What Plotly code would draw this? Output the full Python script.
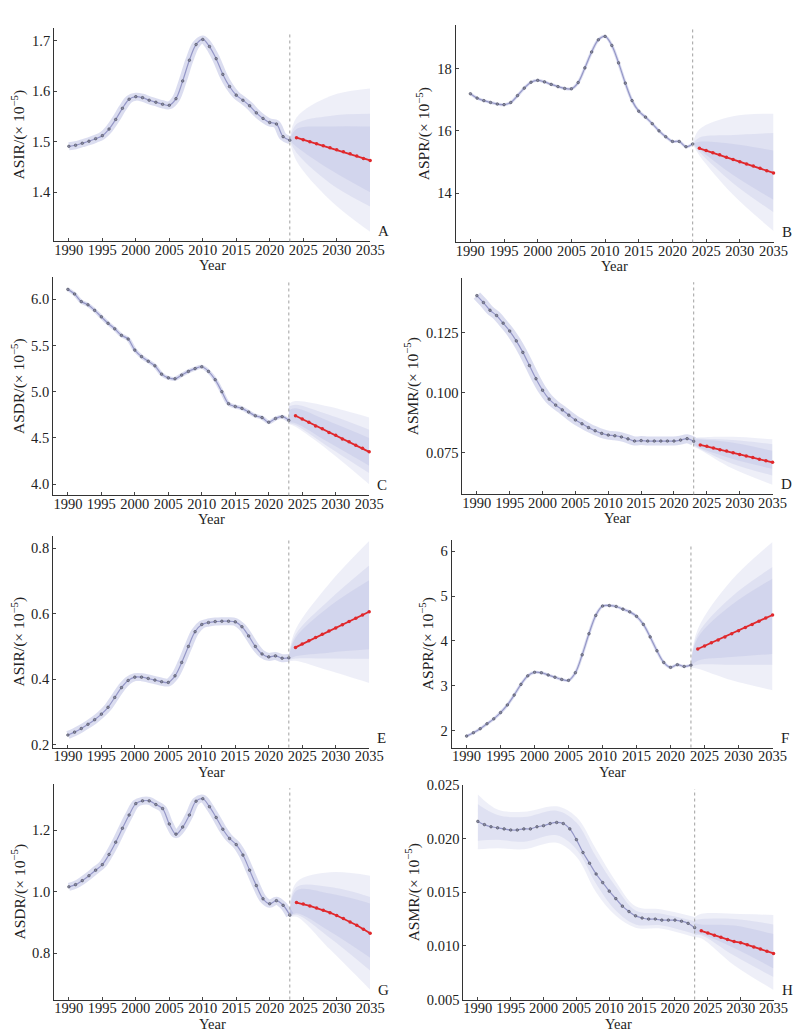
import plotly.graph_objects as go

YEARS_HIST = list(range(1990, 2024))
YEARS_PRED = list(range(2024, 2036))
FAN_YEARS = [2023, 2024, 2029, 2035]

# A  ASIR
a_hist = [1.491, 1.493, 1.497, 1.501, 1.506, 1.512, 1.525, 1.544, 1.566, 1.584,
          1.589, 1.587, 1.582, 1.578, 1.574, 1.572, 1.585, 1.620, 1.661, 1.692,
          1.702, 1.688, 1.664, 1.633, 1.609, 1.592, 1.582, 1.571, 1.557, 1.546,
          1.538, 1.535, 1.510, 1.503]
a_pred = [1.508, 1.504, 1.500, 1.496, 1.492, 1.488, 1.484, 1.480, 1.476, 1.472, 1.467, 1.463]
a_fan_hi = [[1.503, 1.548, 1.590, 1.605], [1.503, 1.535, 1.551, 1.555], [1.503, 1.525, 1.530, 1.530]]
a_fan_lo = [[1.503, 1.462, 1.385, 1.322], [1.503, 1.478, 1.418, 1.372], [1.503, 1.490, 1.445, 1.400]]

# B  ASPR
b_hist = [17.19, 17.05, 16.97, 16.91, 16.86, 16.84, 16.91, 17.13, 17.37, 17.56,
          17.62, 17.57, 17.49, 17.42, 17.36, 17.35, 17.55, 18.02, 18.53, 18.92,
          19.03, 18.74, 18.18, 17.53, 16.97, 16.63, 16.44, 16.23, 16.00, 15.81,
          15.66, 15.66, 15.49, 15.58]
b_pred = [15.44, 15.37, 15.30, 15.23, 15.15, 15.08, 15.01, 14.94, 14.87, 14.80, 14.72, 14.65]
b_fan_hi = [[15.58, 16.05, 16.47, 16.55], [15.58, 15.79, 15.87, 15.93], [15.58, 15.65, 15.58, 15.37]]
b_fan_lo = [[15.58, 15.21, 13.95, 12.79], [15.58, 15.32, 14.32, 13.39], [15.58, 15.40, 14.58, 13.79]]

# C  ASDR
c_hist = [6.107, 6.057, 5.975, 5.94, 5.88, 5.81, 5.74, 5.68, 5.61, 5.57,
          5.45, 5.38, 5.33, 5.28, 5.19, 5.15, 5.14, 5.18, 5.22, 5.25,
          5.27, 5.22, 5.13, 5.00, 4.87, 4.84, 4.82, 4.78, 4.74, 4.72,
          4.67, 4.71, 4.73, 4.69]
c_pred = [4.74, 4.705, 4.67, 4.63, 4.60, 4.56, 4.53, 4.49, 4.46, 4.42, 4.39, 4.35]
c_fan_hi = [[4.87, 4.90, 4.84, 4.72], [4.84, 4.86, 4.75, 4.59], [4.80, 4.82, 4.68, 4.50]]
c_fan_lo = [[4.65, 4.62, 4.36, 4.00], [4.66, 4.64, 4.40, 4.12], [4.67, 4.66, 4.45, 4.20]]

# D  ASMR
d_hist = [0.1406, 0.1377, 0.1345, 0.1323, 0.1291, 0.1258, 0.1217, 0.1169, 0.1114, 0.1059,
          0.1011, 0.0974, 0.0949, 0.0929, 0.0907, 0.0887, 0.0871, 0.0855, 0.0842, 0.0831,
          0.0824, 0.0821, 0.0816, 0.0808, 0.0799, 0.0801, 0.0799, 0.0799, 0.0799, 0.0799,
          0.0799, 0.0803, 0.0809, 0.0798]
d_pred = [0.0783, 0.0777, 0.0770, 0.0763, 0.0757, 0.0750, 0.0743, 0.0737, 0.0730, 0.0723, 0.0717, 0.0710]
d_fan_hi = [[0.0813, 0.0815, 0.0817, 0.0806], [0.0810, 0.0810, 0.0803, 0.0786], [0.0806, 0.0805, 0.0792, 0.0758]]
d_fan_lo = [[0.0775, 0.0762, 0.0683, 0.0617], [0.0780, 0.0766, 0.0703, 0.0655], [0.0785, 0.0770, 0.0724, 0.0683]]

# E  ASIR
e_hist = [0.229, 0.238, 0.249, 0.262, 0.276, 0.293, 0.314, 0.344, 0.374, 0.396,
          0.406, 0.406, 0.402, 0.397, 0.392, 0.390, 0.410, 0.451, 0.500, 0.545,
          0.567, 0.573, 0.576, 0.577, 0.577, 0.575, 0.560, 0.532, 0.500, 0.477,
          0.468, 0.471, 0.464, 0.465]
e_pred = [0.497, 0.507, 0.517, 0.527, 0.537, 0.547, 0.556, 0.566, 0.576, 0.586, 0.596, 0.606]
e_fan_hi = [[0.475, 0.551, 0.691, 0.822], [0.472, 0.536, 0.641, 0.747], [0.469, 0.526, 0.621, 0.702]]
e_fan_lo = [[0.455, 0.456, 0.426, 0.388], [0.458, 0.463, 0.463, 0.462], [0.461, 0.470, 0.481, 0.491]]

# F  ASPR
f_hist = [1.875, 1.95, 2.04, 2.15, 2.26, 2.40, 2.57, 2.79, 3.03, 3.22,
          3.30, 3.29, 3.24, 3.19, 3.14, 3.12, 3.29, 3.69, 4.16, 4.57,
          4.78, 4.79, 4.77, 4.71, 4.65, 4.55, 4.37, 4.09, 3.78, 3.52,
          3.41, 3.47, 3.43, 3.46]
f_pred = [3.82, 3.89, 3.96, 4.02, 4.09, 4.16, 4.23, 4.30, 4.37, 4.44, 4.51, 4.58]
f_fan_hi = [[3.52, 4.26, 5.36, 6.21], [3.50, 4.15, 4.99, 5.65], [3.48, 4.07, 4.81, 5.39]]
f_fan_lo = [[3.40, 3.38, 3.12, 2.90], [3.42, 3.47, 3.47, 3.47], [3.44, 3.56, 3.64, 3.71]]

# G  ASDR
g_hist = [1.016, 1.023, 1.036, 1.052, 1.070, 1.088, 1.121, 1.161, 1.206, 1.249,
          1.286, 1.295, 1.295, 1.283, 1.270, 1.220, 1.187, 1.210, 1.249, 1.294,
          1.302, 1.276, 1.241, 1.203, 1.173, 1.153, 1.119, 1.070, 1.020, 0.977,
          0.961, 0.971, 0.956, 0.924]
g_pred = [0.965, 0.960, 0.954, 0.947, 0.940, 0.932, 0.923, 0.913, 0.902, 0.891, 0.878, 0.865]
g_fan_hi = [[0.930, 1.031, 1.063, 1.052], [0.928, 1.015, 1.015, 0.983], [0.926, 1.004, 0.994, 0.962]]
g_fan_lo = [[0.915, 0.919, 0.813, 0.682], [0.918, 0.925, 0.850, 0.744], [0.920, 0.930, 0.871, 0.786]]

# H  ASMR
h_hist = [0.0216, 0.0213, 0.0211, 0.0210, 0.0209, 0.0208, 0.0208, 0.0209, 0.0209, 0.0211,
          0.0212, 0.0214, 0.0215, 0.0214, 0.0209, 0.0199, 0.0187, 0.0177, 0.0167, 0.0159,
          0.0151, 0.0144, 0.0137, 0.0132, 0.0128, 0.0126, 0.0125, 0.0125, 0.0124, 0.0124,
          0.0124, 0.0123, 0.0121, 0.0117]
h_pred = [0.0114, 0.0112, 0.0110, 0.0108, 0.0106, 0.0104, 0.0103, 0.0101, 0.0099, 0.0097, 0.0095, 0.0093]
h_fan_hi = [[0.0127, 0.0130, 0.0130, 0.01287], [0.0124, 0.0125, 0.0125, 0.0120], [0.0121, 0.0120, 0.0119, 0.0111]]
h_fan_lo = [[0.0108, 0.0107, 0.0082, 0.0059], [0.0110, 0.0110, 0.0091, 0.0071], [0.0112, 0.0111, 0.0098, 0.0079]]
# observed-period uncertainty band of H
h_band_years = [1990, 1993, 1997, 2002, 2005, 2008, 2011, 2014, 2018, 2023]
h_band_hi = [[0.0241, 0.0227, 0.0225, 0.0230, 0.0220, 0.0190, 0.0160, 0.0137, 0.0134, 0.0127],
             [0.0232, 0.0222, 0.0220, 0.0226, 0.0215, 0.0183, 0.0155, 0.0133, 0.0130, 0.0123]]
h_band_lo = [[0.0190, 0.0191, 0.0190, 0.0196, 0.0183, 0.0150, 0.0128, 0.0117, 0.0116, 0.0108],
             [0.0198, 0.0199, 0.0197, 0.0203, 0.0190, 0.0158, 0.0133, 0.0120, 0.0119, 0.0111]]

W, H = 808, 1034
FONT = "Liberation Serif, Times New Roman, serif"
BAND = "rgba(140,145,205,0.15)"
HIST_LINE = "#9597c6"

# letter, hist, pred, fan_hi, fan_lo, y title, pixel box (l, r, t, b), y range, dtick, fmt, band width
panels = [
    ("A", a_hist, a_pred, a_fan_hi, a_fan_lo, "ASIR", (47, 369, 12, 229), (1.303, 1.725), 0.1, ".1f", 8),
    ("B", b_hist, b_pred, b_fan_hi, b_fan_lo, "ASPR", (456, 780, 9, 230), (12.42, 19.4), 2, "d", 3),
    ("C", c_hist, c_pred, c_fan_hi, c_fan_lo, "ASDR", (46, 368, 265, 487), (3.878, 6.242), 0.5, ".1f", 4),
    ("D", d_hist, d_pred, d_fan_hi, d_fan_lo, "ASMR", (463, 779, 266, 486), (0.0576, 0.148), 0.025, ".3f", 9),
    ("E", e_hist, e_pred, e_fan_hi, e_fan_lo, "ASIR", (46, 368, 528, 743), (0.191, 0.838), 0.2, ".1f", 8),
    ("F", f_hist, f_pred, f_fan_hi, f_fan_lo, "ASPR", (452, 779, 532, 743), (1.62, 6.26), 1, "d", 3),
    ("G", g_hist, g_pred, g_fan_hi, g_fan_lo, "ASDR", (47, 369, 780, 999), (0.65, 1.35), 0.2, ".1f", 8),
    ("H", h_hist, h_pred, h_fan_hi, h_fan_lo, "ASMR", (464, 780, 781, 999), (0.005, 0.025), 0.005, ".3f", 3),
]

fig = go.Figure()
layout = dict(
    width=W, height=H, margin=dict(l=0, r=0, t=0, b=0),
    paper_bgcolor="white", plot_bgcolor="white", showlegend=False,
    font=dict(family=FONT, size=14, color="#222"),
)
shapes, annotations = [], []


def band(fig, xs, hi, lo, xa, ya):
    fig.add_trace(go.Scatter(x=xs, y=lo, mode="lines", line=dict(width=0, shape="spline"),
                             xaxis=xa, yaxis=ya, hoverinfo="skip"))
    fig.add_trace(go.Scatter(x=xs, y=hi, mode="lines", line=dict(width=0, shape="spline"),
                             fill="tonexty", fillcolor=BAND, xaxis=xa, yaxis=ya, hoverinfo="skip"))


for i, (letter, hist, pred, fhi, flo, ytitle, box, yr, dt, fmt, bw) in enumerate(panels):
    n = i + 1
    sfx = "" if n == 1 else str(n)
    xa, ya = "x" + sfx, "y" + sfx
    l, r, t, b = box

    # forecast fan, nested bands
    for hi, lo in zip(fhi, flo):
        band(fig, FAN_YEARS, hi, lo, xa, ya)

    # observed-period band
    if letter == "H":
        for hi, lo in zip(h_band_hi, h_band_lo):
            band(fig, h_band_years, hi, lo, xa, ya)
    else:
        fig.add_trace(go.Scatter(x=YEARS_HIST, y=hist, mode="lines",
                                 line=dict(width=bw, color="rgba(170,173,220,0.42)", shape="spline"),
                                 xaxis=xa, yaxis=ya, hoverinfo="skip"))

    fig.add_trace(go.Scatter(x=YEARS_HIST, y=hist, mode="lines+markers",
                             line=dict(width=1.2, color=HIST_LINE, shape="spline"),
                             marker=dict(size=2.6, color="#8a8ca3", line=dict(width=0.5, color="#3a3c4c")),
                             xaxis=xa, yaxis=ya, cliponaxis=False))
    fig.add_trace(go.Scatter(x=YEARS_PRED, y=pred, mode="lines+markers",
                             line=dict(width=1.8, color="#e0282c"),
                             marker=dict(size=3.5, color="#e0282c"),
                             xaxis=xa, yaxis=ya, cliponaxis=False))

    layout["xaxis" + sfx] = dict(
        domain=[l / W, r / W], anchor=ya, range=[1987.8, 2035],
        tickvals=list(range(1990, 2036, 5)), ticks="inside", ticklen=3,
        showline=True, linecolor="#333", linewidth=1, showgrid=False, zeroline=False,
        tickfont=dict(size=14.5), ticklabelstandoff=-5,
    )
    layout["yaxis" + sfx] = dict(
        domain=[1 - b / H, 1 - t / H], anchor=xa, range=list(yr),
        dtick=dt, tickformat=fmt, ticks="inside", ticklen=3,
        showline=True, linecolor="#333", linewidth=1, showgrid=False, zeroline=False,
        tickfont=dict(size=14.5),
        title=dict(text=f"{ytitle}/(× 10<sup>−5</sup>)", standoff=3, font=dict(size=15.5)),
    )
    shapes.append(dict(type="line", xref=xa, yref=ya + " domain", x0=2023, x1=2023, y0=0, y1=0.98,
                       line=dict(color="#a0a0a0", width=1, dash="dot")))
    annotations.append(dict(text=letter, xref=xa + " domain", yref=ya + " domain", x=1.02, y=0.0,
                            xanchor="left", yanchor="bottom", showarrow=False, font=dict(size=15)))
    annotations.append(dict(text="Year", xref=xa + " domain", yref=ya + " domain", x=0.5, y=0.0,
                            xanchor="center", yanchor="top", yshift=-14, showarrow=False,
                            font=dict(size=14.5)))

layout["shapes"] = shapes
layout["annotations"] = annotations
fig.update_layout(**layout)
fig.write_html("out.html")
